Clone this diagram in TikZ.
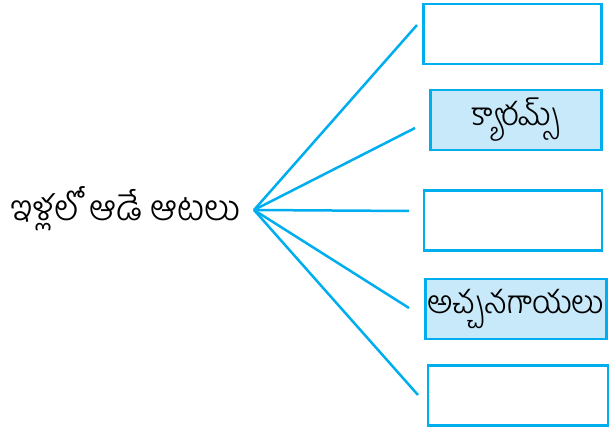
\documentclass[tikz,border=0pt]{standalone}
\usepackage{fontspec}
\newfontfamily\telugu[Script=Telugu, UprightFont=* Light]{Hind Guntur}
\definecolor{linecyan}{RGB}{0, 174, 239}
\definecolor{boxfill}{RGB}{200, 233, 249}
\usetikzlibrary{positioning, calc}
\tikzset{
  gamebox/.style={draw=linecyan, line width=2.8pt, minimum width=178pt, minimum height=60pt, inner sep=0pt, font=\telugu\fontsize{32}{35}\selectfont},
  filledbox/.style={gamebox, fill=boxfill},
  spoke/.style={draw=linecyan, line width=2.5pt}
}

\begin{document}
\begin{tikzpicture}[x=1pt, y=1pt]
  \useasboundingbox (0,0) rectangle (612,428);
  % topic on the left
  \node[font=\telugu\fontsize{35.5}{39}\selectfont, inner sep=0pt] (topic) at (126,219) {ఇళ్లలో ఆడే ఆటలు};
  \coordinate (hub) at (254,218);
  % answer boxes
  \node[gamebox] (game1) at (512.5,394) {};
  \node[filledbox, minimum width=171pt] (game2) at (516,308) {క్యారమ్స్};
  \node[gamebox] (game3) at (513,207.5) {};
  \node[filledbox, minimum width=181pt] (game4) at (516,119) {అచ్చనగాయలు};
  \node[gamebox, minimum width=180pt] (game5) at (518,32.5) {};
  % free ends of the spokes
  \coordinate (end1) at (417,403);
  \coordinate (end2) at (415,300);
  \coordinate (end3) at (409,217);
  \coordinate (end4) at (409,120);
  \coordinate (end5) at (418,33);
  \foreach \i in {1,...,5}
    \draw[spoke] (hub) -- (end\i);
\end{tikzpicture}
\end{document}
